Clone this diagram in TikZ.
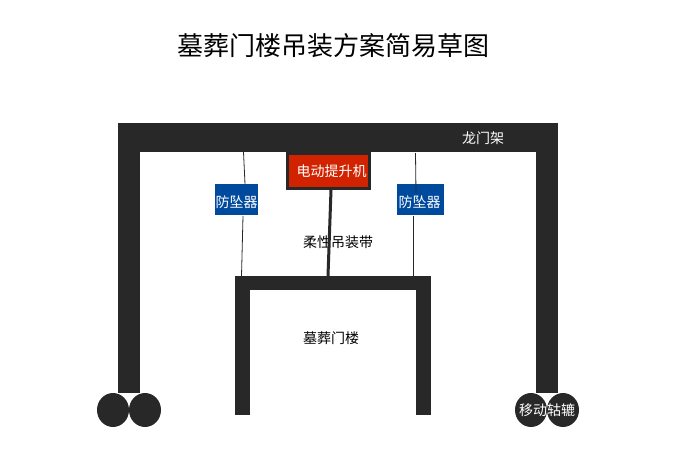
\documentclass[tikz,border=0pt]{standalone}
\usepackage{fontspec}
\setmainfont{Noto Sans CJK SC}
\usetikzlibrary{positioning}
\usetikzlibrary{shapes.geometric}
\definecolor{framegray}{HTML}{282828}
\definecolor{hoistred}{HTML}{D22300}
\definecolor{clampblue}{HTML}{004A9E}
\newcommand{\clamptext}{\raisebox{-1.8pt}[\height][\depth]{防坠器}}
\tikzset{
  label14/.style={font=\fontsize{10.5}{12}\selectfont, inner sep=0pt},
  wheel/.style={fill=framegray, ellipse, minimum width=32*0.75pt, minimum height=34*0.75pt, inner sep=0pt, text=white},
  clamp/.style={fill=clampblue, text=white, font=\fontsize{10.5}{12}\selectfont, inner sep=0pt, minimum height=31*0.75pt},
  rope/.style={draw=framegray, line width=0.6pt},
}
\begin{document}
\begin{tikzpicture}[x=0.75pt,y=-0.75pt]
\useasboundingbox (0,0) rectangle (700,450);
\node[font=\fontsize{19.5}{22}\selectfont, inner sep=0pt] (title) at (333,46) {墓葬门楼吊装方案简易草图};
% gantry
\fill[framegray] (118,123) rectangle (558,152);
\fill[framegray] (118,152) rectangle (140,393);
\fill[framegray] (536,152) rectangle (558,393);
\node[label14, text=white] (gantry) at (483,138) {龙门架};
\node[wheel] (wheelA) at (113,410) {};
\node[wheel] (wheelB) at (145,410) {};
\node[wheel] (wheelC) at (531,410) {};
\node[wheel] (wheelD) at (563,410) {};
\node[label14, text=white] (wheels) at (547,410) {移动轱辘};
% gate tower
\fill[framegray] (235,276) rectangle (431,290);
\fill[framegray] (235,290) rectangle (250,415);
\fill[framegray] (416,290) rectangle (431,415);
\node[label14] (tower) at (331,338) {墓葬门楼};
\node[label14] (strap) at (338,242) {柔性吊装带};
% hoist
\node[draw=framegray, line width=2.25pt, fill=hoistred, text=white, font=\fontsize{10.5}{12}\selectfont, inner sep=0pt,
  minimum width=82*0.75pt, minimum height=35*0.75pt] (hoist) at (328.5,171) {\hspace{4.5pt}电动提升机};
\node[clamp, minimum width=43*0.75pt] (clampL) at (236.5,199.5) {\clamptext};
\node[clamp, minimum width=47*0.75pt] (clampR) at (420.5,199.5) {\hspace{-1.5pt}\clamptext};
% ropes
\coordinate (topL) at (243.5,152);
\coordinate (inL) at (245,184);
\coordinate (topR) at (415.5,153);
\coordinate (inR) at (416,193);
\coordinate (outL) at (243,216);
\coordinate (outR) at (413,216);
\coordinate (lowL) at (241.5,276);
\coordinate (lowR) at (413,276);
\coordinate (strapA) at (331,190);
\coordinate (strapB) at (328,276);
\draw[rope] (topL) -- (inL);
\draw[rope] (topR) -- (inR);
\draw[rope] (outL) -- (lowL);
\draw[rope] (outR) -- (lowR);
\draw[framegray, line width=2.25pt] (strapA) -- (strapB);
\end{tikzpicture}
\end{document}
